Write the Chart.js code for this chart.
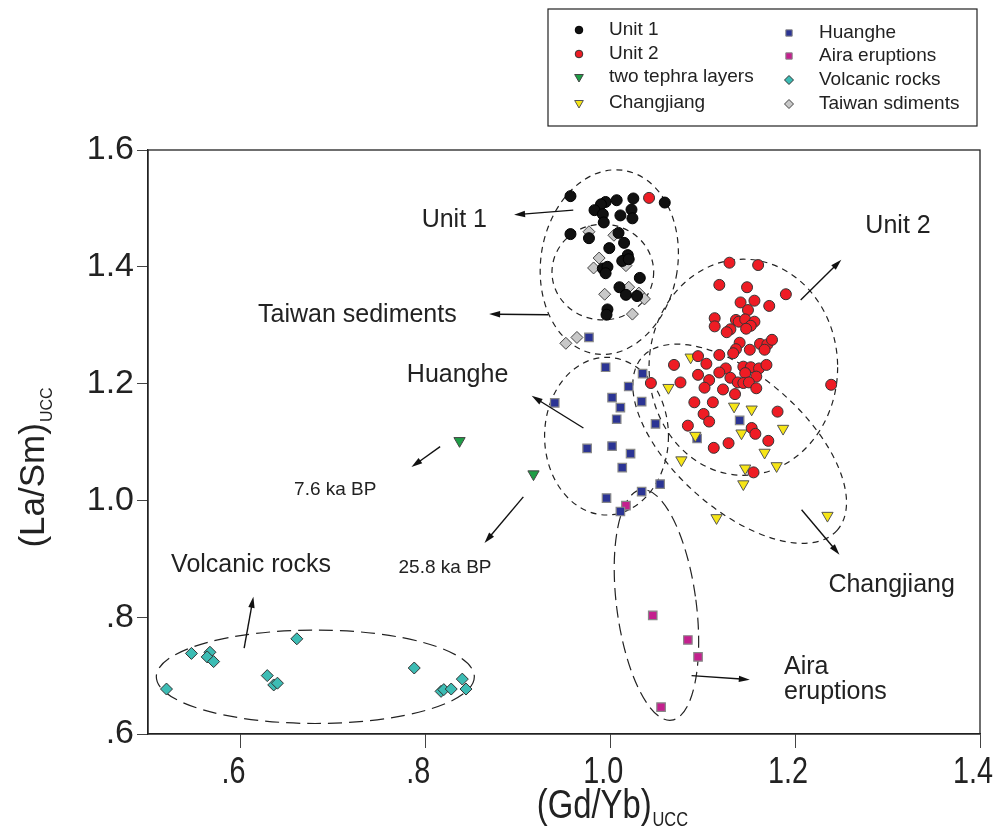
<!DOCTYPE html>
<html>
<head>
<meta charset="utf-8">
<script src="https://cdn.jsdelivr.net/npm/chart.js@4.4.1/dist/chart.umd.min.js"></script>
<style>
body { margin: 0; background: #fff; }
#wrap { width: 1000px; height: 837px; }
</style>
</head>
<body>
<div id="wrap"><canvas id="myChart" width="1000" height="837"></canvas></div>
<script>
// (Gd/Yb)UCC vs (La/Sm)UCC
const unit1 = [
  [0.957,1.521],[0.995,1.511],[0.990,1.507],[1.007,1.514],[1.025,1.517],[1.059,1.510],
  [0.983,1.497],[0.992,1.490],[1.011,1.488],[1.023,1.498],[1.024,1.483],[0.993,1.476],
  [0.957,1.456],[0.977,1.449],[1.009,1.458],[1.015,1.441],[0.999,1.432],[1.019,1.420],
  [1.013,1.410],[1.020,1.413],[0.992,1.397],[0.997,1.400],[0.995,1.389],[1.032,1.381],
  [1.010,1.365],[1.017,1.352],[1.029,1.350],[0.997,1.327],[0.996,1.318]
];
const unit2 = [
  [1.042,1.518],[1.129,1.407],[1.160,1.403],[1.118,1.369],[1.148,1.365],[1.190,1.353],
  [1.141,1.339],[1.156,1.342],[1.149,1.326],[1.172,1.333],[1.113,1.312],[1.113,1.298],
  [1.136,1.309],[1.139,1.306],[1.146,1.310],[1.156,1.306],[1.152,1.299],[1.147,1.294],
  [1.130,1.293],[1.126,1.288],[1.140,1.270],[1.162,1.268],[1.170,1.267],[1.175,1.275],
  [1.167,1.258],[1.151,1.258],[1.136,1.259],[1.133,1.252],[1.118,1.249],[1.095,1.247],
  [1.069,1.232],[1.104,1.234],[1.144,1.229],[1.152,1.228],[1.161,1.226],[1.169,1.232],
  [1.125,1.226],[1.118,1.219],[1.146,1.218],[1.158,1.212],[1.130,1.210],[1.138,1.202],
  [1.144,1.201],[1.150,1.202],[1.095,1.215],[1.107,1.206],[1.076,1.202],[1.044,1.201],
  [1.102,1.193],[1.122,1.190],[1.158,1.192],[1.135,1.182],[1.239,1.198],[1.091,1.168],
  [1.111,1.168],[1.181,1.152],[1.101,1.148],[1.107,1.135],[1.084,1.128],[1.153,1.124],
  [1.157,1.114],[1.171,1.102],[1.112,1.090],[1.128,1.098],[1.155,1.048]
];
const tephra = [[0.837,1.102],[0.917,1.045]];
const changjiang = [
  [1.087,1.245],[1.063,1.193],[1.134,1.161],[1.153,1.156],[1.187,1.123],[1.142,1.115],
  [1.092,1.111],[1.167,1.082],[1.077,1.069],[1.146,1.055],[1.180,1.059],[1.144,1.028],
  [1.115,0.970],[1.235,0.974]
];
const huanghe = [
  [0.977,1.279],[0.995,1.228],[1.035,1.217],[1.020,1.195],[1.002,1.176],[1.034,1.169],
  [0.940,1.167],[1.011,1.159],[1.007,1.139],[1.049,1.131],[0.975,1.089],[1.002,1.093],
  [1.022,1.080],[1.013,1.056],[1.054,1.028],[1.034,1.015],[0.996,1.004],[1.011,0.981],
  [1.140,1.137],[1.094,1.106]
];
const aira = [[1.017,0.991],[1.046,0.803],[1.084,0.761],[1.095,0.732],[1.055,0.646]];
const volcanic = [
  [0.661,0.763],[0.547,0.738],[0.567,0.740],[0.564,0.732],[0.571,0.724],[0.520,0.677],
  [0.629,0.700],[0.636,0.684],[0.640,0.687],[0.788,0.713],[0.840,0.694],[0.817,0.673],
  [0.820,0.676],[0.828,0.677],[0.844,0.677]
];
const taiwan = [
  [0.977,1.460],[1.004,1.454],[0.988,1.415],[0.982,1.398],[1.017,1.402],[0.994,1.353],
  [1.020,1.365],[1.031,1.355],[1.037,1.345],[1.024,1.319],[0.964,1.279],[0.952,1.269]
];

const xTicks = [0.6, 0.8, 1.0, 1.2, 1.4];
const xTickLabels = ['.6', '.8', '1.0', '1.2', '1.4'];
const yTicks = [0.6, 0.8, 1.0, 1.2, 1.4, 1.6];
const yTickLabels = ['.6', '.8', '1.0', '1.2', '1.4', '1.6'];

// group outlines (centre and half-axes in data units, rotation in degrees)
const groups = [
  { cx: 0.999, cy: 1.408, rx: 0.074, ry: 0.159, rot: 9, dash: [6, 5] },
  { cx: 0.992, cy: 1.391, rx: 0.055, ry: 0.082, rot: 0, dash: [6, 5] },
  { cx: 1.144, cy: 1.228, rx: 0.102, ry: 0.185, rot: 0, dash: [6, 5] },
  { cx: 1.140, cy: 1.097, rx: 0.141, ry: 0.113, rot: 41.6, dash: [6, 5] },
  { cx: 0.996, cy: 1.110, rx: 0.067, ry: 0.135, rot: 0, dash: [6, 5] },
  { cx: 1.050, cy: 0.821, rx: 0.043, ry: 0.199, rot: -7.5, dash: [12, 6] },
  { cx: 0.681, cy: 0.698, rx: 0.172, ry: 0.080, rot: 0, dash: [14, 7] }
];

const arrows = [
  [0.960, 1.497, 0.896, 1.489],
  [0.933, 1.318, 0.869, 1.319],
  [0.971, 1.124, 0.915, 1.179],
  [1.206, 1.343, 1.250, 1.412],
  [1.207, 0.984, 1.248, 0.907],
  [1.088, 0.700, 1.151, 0.693],
  [0.604, 0.747, 0.614, 0.835],
  [0.816, 1.092, 0.785, 1.057],
  [0.906, 1.006, 0.864, 0.927]
];

const notes = [
  { text: 'Unit 1', x: 0.796, y: 1.480, size: 25 },
  { text: 'Taiwan sediments', x: 0.619, y: 1.318, size: 25 },
  { text: 'Huanghe', x: 0.780, y: 1.215, size: 25 },
  { text: 'Unit 2', x: 1.276, y: 1.470, size: 25 },
  { text: 'Changjiang', x: 1.236, y: 0.855, size: 25 },
  { text: 'Aira', x: 1.188, y: 0.715, size: 25 },
  { text: 'eruptions', x: 1.188, y: 0.672, size: 25 },
  { text: 'Volcanic rocks', x: 0.525, y: 0.890, size: 25 },
  { text: '7.6 ka BP', x: 0.658, y: 1.018, size: 19 },
  { text: '25.8 ka BP', x: 0.771, y: 0.884, size: 19 }
];

const sans = "'Liberation Sans', Arial, Helvetica, sans-serif";

function pts(arr) {
  return arr.map(p => ({ x: p[0], y: p[1] }));
}

const datasets = [
  { label: 'Unit 1', data: pts(unit1), pointStyle: 'circle', pointRadius: 5.5,
    backgroundColor: '#111', borderColor: '#000', borderWidth: 1 },
  { label: 'Unit 2', data: pts(unit2), pointStyle: 'circle', pointRadius: 5.5,
    backgroundColor: '#ee1c24', borderColor: '#333', borderWidth: 1 },
  { label: 'Changjiang', data: pts(changjiang), pointStyle: 'triangle', rotation: 180, pointRadius: 6.5,
    backgroundColor: '#f6e516', borderColor: '#555', borderWidth: 1 },
  { label: 'Huanghe', data: pts(huanghe), pointStyle: 'rect', pointRadius: 6,
    backgroundColor: '#2b3494', borderColor: '#888', borderWidth: 1.2 },
  { label: 'Aira eruptions', data: pts(aira), pointStyle: 'rect', pointRadius: 6,
    backgroundColor: '#c4208e', borderColor: '#888', borderWidth: 1.2 },
  { label: 'Volcanic rocks', data: pts(volcanic), pointStyle: 'rectRot', pointRadius: 6,
    backgroundColor: '#3cbcb4', borderColor: '#333', borderWidth: 1 },
  { label: 'Taiwan sdiments', data: pts(taiwan), pointStyle: 'rectRot', pointRadius: 6,
    backgroundColor: '#c8c8c8', borderColor: '#444', borderWidth: 1 },
  { label: 'two tephra layers', data: pts(tephra), pointStyle: 'triangle', rotation: 180, pointRadius: 6.5,
    backgroundColor: '#1e9e46', borderColor: '#444', borderWidth: 1 }
];

// legend layout: two columns, order as in the figure
const legendCols = [
  ['Unit 1', 'Unit 2', 'two tephra layers', 'Changjiang'],
  ['Huanghe', 'Aira eruptions', 'Volcanic rocks', 'Taiwan sdiments']
];

function arrow(ctx, x1, y1, x2, y2) {
  const a = Math.atan2(y2 - y1, x2 - x1);
  const len = 11, w = 3.2;
  ctx.beginPath();
  ctx.moveTo(x1, y1);
  ctx.lineTo(x2 - Math.cos(a) * len * 0.8, y2 - Math.sin(a) * len * 0.8);
  ctx.stroke();
  ctx.beginPath();
  ctx.moveTo(x2, y2);
  ctx.lineTo(x2 - Math.cos(a) * len - Math.sin(a) * w, y2 - Math.sin(a) * len + Math.cos(a) * w);
  ctx.lineTo(x2 - Math.cos(a) * len + Math.sin(a) * w, y2 - Math.sin(a) * len - Math.cos(a) * w);
  ctx.closePath();
  ctx.fill();
}

function subText(ctx, main, sub, x, y, mainFont, subFont, subDrop) {
  ctx.font = mainFont;
  const w1 = ctx.measureText(main).width;
  ctx.font = subFont;
  const w2 = ctx.measureText(sub).width;
  const start = x - (w1 + w2) / 2;
  ctx.textAlign = 'left';
  ctx.textBaseline = 'alphabetic';
  ctx.font = mainFont;
  ctx.fillText(main, start, y);
  ctx.font = subFont;
  ctx.fillText(sub, start + w1 + 1, y + subDrop);
}

const decor = {
  id: 'decor',
  beforeDatasetsDraw(chart) {
    const { ctx, scales: { x, y } } = chart;
    ctx.save();
    ctx.strokeStyle = '#222';
    ctx.lineWidth = 1.2;
    groups.forEach(g => {
      const cx = x.getPixelForValue(g.cx), cy = y.getPixelForValue(g.cy);
      const rx = Math.abs(x.getPixelForValue(g.cx + g.rx) - cx);
      const ry = Math.abs(y.getPixelForValue(g.cy + g.ry) - cy);
      ctx.setLineDash(g.dash);
      ctx.beginPath();
      ctx.ellipse(cx, cy, rx, ry, g.rot * Math.PI / 180, 0, Math.PI * 2);
      ctx.stroke();
    });
    ctx.restore();
  },
  afterDraw(chart) {
    const { ctx, chartArea: ca, scales: { x, y } } = chart;
    ctx.save();
    // frame
    ctx.strokeStyle = '#222';
    ctx.lineWidth = 1.3;
    ctx.strokeRect(ca.left, ca.top, ca.right - ca.left, ca.bottom - ca.top);

    // x tick labels, condensed like the original
    ctx.fillStyle = '#222';
    ctx.textAlign = 'center';
    ctx.textBaseline = 'middle';
    ctx.font = '36px ' + sans;
    xTicks.forEach((v, i) => {
      ctx.save();
      ctx.translate(x.getPixelForValue(v) - 7, 773);
      ctx.scale(0.8, 1);
      ctx.fillText(xTickLabels[i], 0, 0);
      ctx.restore();
    });

    // arrows
    ctx.fillStyle = '#111';
    ctx.strokeStyle = '#111';
    ctx.lineWidth = 1.4;
    arrows.forEach(a => {
      arrow(ctx, x.getPixelForValue(a[0]), y.getPixelForValue(a[1]),
        x.getPixelForValue(a[2]), y.getPixelForValue(a[3]));
    });

    // notes
    ctx.fillStyle = '#222';
    ctx.textAlign = 'left';
    ctx.textBaseline = 'middle';
    notes.forEach(n => {
      ctx.font = n.size + 'px ' + sans;
      ctx.fillText(n.text, x.getPixelForValue(n.x), y.getPixelForValue(n.y));
    });

    // axis titles
    ctx.fillStyle = '#222';
    ctx.save();
    ctx.translate(612, 818);
    ctx.scale(0.82, 1);
    subText(ctx, '(Gd/Yb)', 'UCC', 0, 0, '40px ' + sans, '20px ' + sans, 8);
    ctx.restore();
    ctx.save();
    ctx.translate(44, 468);
    ctx.rotate(-Math.PI / 2);
    subText(ctx, '(La/Sm)', 'UCC', 0, 0, '35px ' + sans, '16px ' + sans, 8);
    ctx.restore();

    // legend
    ctx.strokeStyle = '#222';
    ctx.lineWidth = 1.2;
    ctx.setLineDash([]);
    ctx.strokeRect(548, 9, 429, 117);
    const rowsY = [[30, 54, 77, 103], [33, 56, 80, 104]];
    const markX = [579, 789];
    const textX = [609, 819];
    ctx.font = '19px ' + sans;
    ctx.textAlign = 'left';
    ctx.textBaseline = 'middle';
    legendCols.forEach((col, c) => {
      col.forEach((label, r) => {
        const ds = chart.data.datasets.find(d => d.label === label);
        const yy = rowsY[c][r];
        ctx.fillStyle = ds.backgroundColor;
        ctx.strokeStyle = ds.borderColor;
        ctx.lineWidth = 1;
        const rad = ds.pointStyle === 'circle' ? 3.8 : (ds.pointStyle === 'triangle' ? 5 : 4.5);
        Chart.helpers.drawPoint(ctx, { pointStyle: ds.pointStyle, rotation: ds.rotation || 0,
          radius: rad, borderWidth: 1 }, markX[c], yy);
        ctx.fillStyle = '#222';
        ctx.fillText(label, textX[c], yy);
      });
    });
    ctx.restore();
  }
};

new Chart(document.getElementById('myChart'), {
  type: 'scatter',
  data: { datasets: datasets },
  options: {
    responsive: false,
    animation: false,
    devicePixelRatio: 1,
    layout: { padding: { top: 150, right: 20, left: 0, bottom: 0 } },
    plugins: { legend: { display: false }, tooltip: { enabled: false } },
    scales: {
      x: {
        type: 'linear', min: 0.5, max: 1.4,
        afterBuildTicks: s => { s.ticks = xTicks.map(v => ({ value: v })); },
        afterFit: s => { s.height = 103; s.paddingLeft = 0; s.paddingRight = 0; },
        ticks: { display: false },
        grid: { drawOnChartArea: false, drawTicks: true, tickLength: 14, color: '#444' },
        border: { display: true, color: '#222', width: 1.3 }
      },
      y: {
        type: 'linear', min: 0.6, max: 1.6,
        afterBuildTicks: s => { s.ticks = yTicks.map(v => ({ value: v })); },
        afterFit: s => { s.width = 148; },
        ticks: {
          autoSkip: false, padding: 3, color: '#222',
          font: { family: sans, size: 34 },
          callback: (v, i) => yTickLabels[i]
        },
        grid: { drawOnChartArea: false, drawTicks: true, tickLength: 11, color: '#444' },
        border: { display: true, color: '#222', width: 1.3 }
      }
    }
  },
  plugins: [decor]
});
</script>
</body>
</html>
